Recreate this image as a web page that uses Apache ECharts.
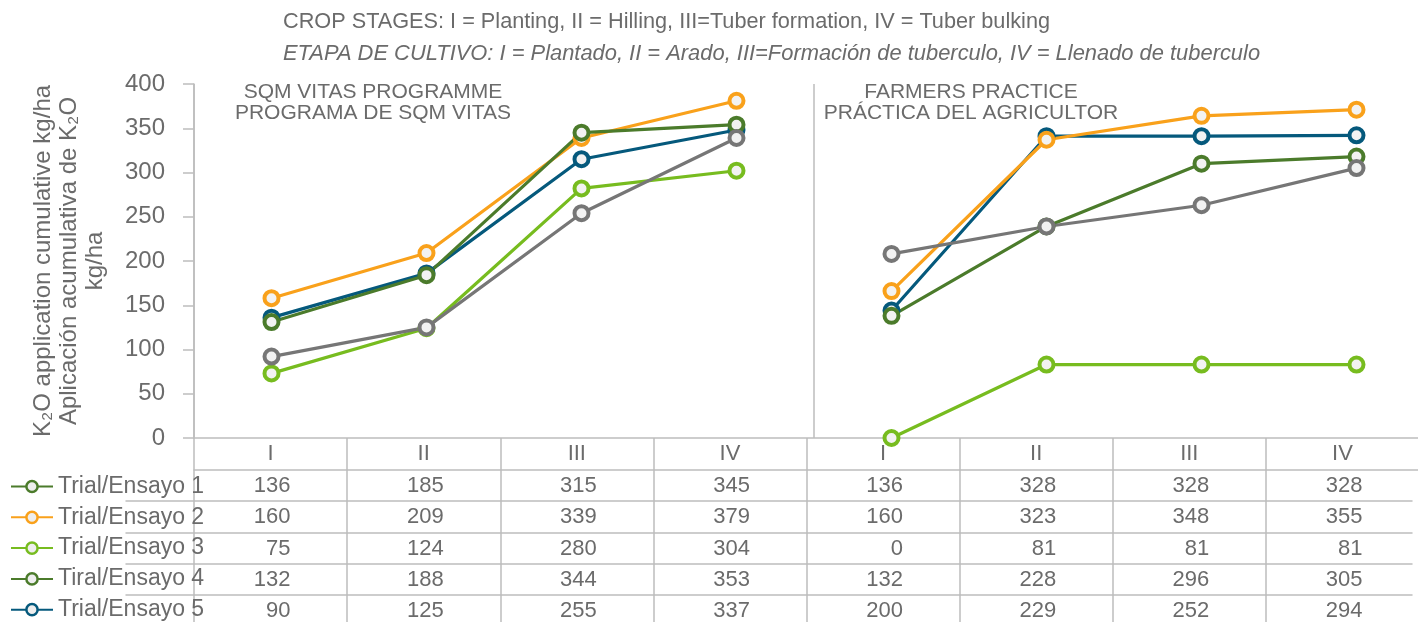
<!DOCTYPE html>
<html>
<head>
<meta charset="utf-8">
<script src="https://cdn.jsdelivr.net/npm/echarts@6/dist/echarts.min.js"></script>
<style>
html, body { margin: 0; padding: 0; background: #fff; }
#main { width: 1418px; height: 622px; }
</style>
</head>
<body>
<div id="main"></div>
<script>
// crop stages, 4 for SQM programme then 4 for farmers practice
var stages = ['I', 'II', 'III', 'IV', 'I', 'II', 'III', 'IV'];
var trialNames = ['Trial/Ensayo 1', 'Trial/Ensayo 2', 'Trial/Ensayo 3', 'Tiral/Ensayo 4', 'Trial/Ensayo 5'];

// plotted points, SQM VITAS programme (I..IV)
var sqmTrial1 = [136, 186, 315, 348];
var sqmTrial2 = [158, 209, 339, 381];
var sqmTrial3 = [73, 124, 282, 302];
var sqmTrial4 = [131, 184, 345, 354];
var sqmTrial5 = [92, 125, 254, 339];

// plotted points, farmers practice (I..IV)
var farmTrial1 = [144, 341, 341, 342];
var farmTrial2 = [166, 337, 364, 371];
var farmTrial3 = [0, 83, 83, 83];
var farmTrial4 = [138, 239, 310, 318];
var farmTrial5 = [208, 239, 263, 305];

// values printed in the data table under the chart
var tableTrial1 = [136, 185, 315, 345, 136, 328, 328, 328];
var tableTrial2 = [160, 209, 339, 379, 160, 323, 348, 355];
var tableTrial3 = [75, 124, 280, 304, 0, 81, 81, 81];
var tableTrial4 = [132, 188, 344, 353, 132, 228, 296, 305];
var tableTrial5 = [90, 125, 255, 337, 200, 229, 252, 294];

var yTicks = [0, 50, 100, 150, 200, 250, 300, 350, 400];

var sqmData = [sqmTrial1, sqmTrial2, sqmTrial3, sqmTrial4, sqmTrial5];
var farmData = [farmTrial1, farmTrial2, farmTrial3, farmTrial4, farmTrial5];
var tableData = [tableTrial1, tableTrial2, tableTrial3, tableTrial4, tableTrial5];

var lineColors = ['#05597c', '#f9a11b', '#77bc1f', '#4b7b2b', '#767676'];
var legendColors = ['#4b7b2b', '#f9a11b', '#77bc1f', '#4b7b2b', '#05597c'];
var textColor = '#6b6b6b';
var ruleColor = '#bdbdbd';
var font = 'Liberation Sans';

var gap = ['-', '-', '-', '-'];
var series = [];
function addSeries(d, i) {
    series.push({
        name: trialNames[i], type: 'line', xAxisIndex: 0, yAxisIndex: 0,
        data: d,
        symbol: 'circle', symbolSize: 14,
        lineStyle: { color: lineColors[i], width: 3.2 },
        itemStyle: { color: '#f2f2f2', borderColor: lineColors[i], borderWidth: 4 }
    });
}
sqmData.forEach(function (d, i) { addSeries(d.concat(gap), i); });
farmData.forEach(function (d, i) { addSeries(gap.concat(d), i); });

// table rows: one category axis per row, stacked under the plot
var rowOffsets = [32, 63, 95, 126, 157];
var xAxes = [
    {
        gridIndex: 0, type: 'category', data: stages, boundaryGap: true,
        axisLine: { show: true, onZero: false, lineStyle: { color: ruleColor, width: 1.5 } },
        axisTick: { show: false },
        axisLabel: { show: false },
        splitLine: { show: true, interval: function (i) { return i % 4 === 0; }, lineStyle: { color: ruleColor, width: 1.5 } }
    },
    {
        gridIndex: 1, type: 'category', data: stages, position: 'bottom', offset: 0,
        axisLine: { show: false, onZero: false },
        axisTick: { show: true, interval: 0, length: 184, lineStyle: { color: ruleColor, width: 1.5 } },
        axisLabel: { interval: 0, margin: 5, fontSize: 22, color: textColor }
    }
];
tableData.forEach(function (row, k) {
    xAxes.push({
        gridIndex: 1, type: 'category', data: stages, position: 'bottom', offset: rowOffsets[k],
        axisLine: { show: k === 0, onZero: false, lineStyle: { color: ruleColor, width: 1.5 } },
        axisTick: { show: false },
        axisLabel: {
            interval: 0, margin: 5,
            formatter: function (v, idx) { return '{n|' + row[idx] + '}'; },
            rich: { n: { width: 40, align: 'right', fontSize: 22, color: textColor } }
        }
    });
    if (k > 0) {
        // rule lines that run on under the legend
        xAxes.push({
            gridIndex: 2, type: 'category', data: stages, position: 'bottom', offset: rowOffsets[k],
            axisLine: { show: true, onZero: false, lineStyle: { color: ruleColor, width: 1.5 } },
            axisTick: { show: false }, axisLabel: { show: false }
        });
    }
});

var option = {
    animation: false,
    textStyle: { fontFamily: font },
    grid: [
        { left: 194, width: 1240, top: 84, bottom: 184, outerBoundsMode: 'none' },
        { left: 194, width: 1225, top: 84, bottom: 184, outerBoundsMode: 'none' },
        { left: 126, right: 6, top: 84, bottom: 184, outerBoundsMode: 'none' }
    ],
    legend: {
        orient: 'vertical', left: 10, top: 475, height: 150, padding: 0,
        itemWidth: 42, itemHeight: 14, itemGap: 7.8,
        selectedMode: false,
        textStyle: { fontSize: 23, lineHeight: 23, color: textColor, fontFamily: font },
        data: trialNames.map(function (n, i) {
            return {
                name: n,
                itemStyle: { color: '#eeeeee', borderColor: legendColors[i], borderWidth: 2.5 },
                lineStyle: { color: legendColors[i], width: 2 }
            };
        })
    },
    xAxis: xAxes,
    yAxis: [
        {
            gridIndex: 0, type: 'value', min: 0, max: 400, interval: 50,
            axisLine: { show: true, lineStyle: { color: ruleColor, width: 1.5 } },
            axisTick: { show: true, length: 11, lineStyle: { color: ruleColor, width: 1.5 } },
            axisLabel: { margin: 29, fontSize: 24, color: textColor,
                formatter: function (v) { return yTicks.indexOf(v) >= 0 ? String(v) : ''; } },
            splitLine: { show: false },
            name: 'K\u2082O application cumulative kg/ha\nAplicación acumulativa de K\u2082O\nkg/ha',
            nameLocation: 'middle', nameRotate: 90, nameGap: 86,
            nameTextStyle: { fontSize: 24, lineHeight: 26, color: textColor, align: 'center' }
        },
        { gridIndex: 1, type: 'value', show: false },
        { gridIndex: 2, type: 'value', show: false }
    ],
    graphic: [
        { type: 'text', x: 283, y: 22, style: { text: 'CROP STAGES: I = Planting, II = Hilling, III=Tuber formation, IV = Tuber bulking',
            font: '21.7px "Liberation Sans"', fill: textColor, verticalAlign: 'middle' } },
        { type: 'text', x: 283, y: 54, style: { text: 'ETAPA DE CULTIVO: I = Plantado, II = Arado, III=Formación de tuberculo, IV = Llenado de tuberculo',
            font: 'italic 21.9px "Liberation Sans"', fill: textColor, verticalAlign: 'middle' } },
        { type: 'text', x: 373, y: 92, style: { text: 'SQM VITAS PROGRAMME', font: '21px "Liberation Sans"', fill: textColor, align: 'center', verticalAlign: 'middle' } },
        { type: 'text', x: 373, y: 113, style: { text: 'PROGRAMA DE SQM VITAS', font: '21px "Liberation Sans"', fill: textColor, align: 'center', verticalAlign: 'middle' } },
        { type: 'text', x: 971, y: 92, style: { text: 'FARMERS PRACTICE', font: '21px "Liberation Sans"', fill: textColor, align: 'center', verticalAlign: 'middle' } },
        { type: 'text', x: 971, y: 113, style: { text: 'PRÁCTICA DEL AGRICULTOR', font: '21px "Liberation Sans"', fill: textColor, align: 'center', verticalAlign: 'middle' } }
    ],
    series: series
};

var myChart = echarts.init(document.getElementById('main'));
myChart.setOption(option);
</script>
</body>
</html>
